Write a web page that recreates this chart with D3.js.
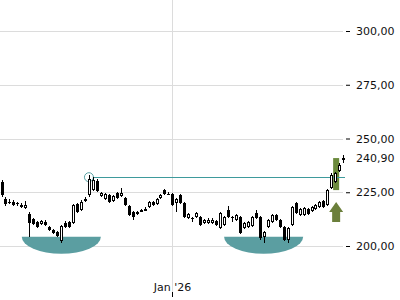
<!DOCTYPE html>
<html>
<head>
<meta charset="utf-8">
<script src="https://cdn.jsdelivr.net/npm/d3@7"></script>
<style>
  body { margin: 0; background: #fff; }
  svg { display: block; font-family: "DejaVu Sans", sans-serif; }
</style>
</head>
<body>
<div id="chart"></div>
<script>
// daily candles, oldest first
var openVals = [229.8, 221.9, 220.6, 220.5, 219.8, 219.1, 217.7, 214.8, 212.6, 211.2,
    210.2, 211.2, 208.8, 207.4, 206.5, 202.3, 210.7, 211.2, 210.7, 219.5,
    216.7, 221.2, 223.7, 226.0, 230.2, 223.3, 221.9, 223.7, 220.9, 224.7,
    223.3, 222.3, 218.6, 215.8, 215.8, 216.5, 217.0, 218.1, 220.5, 219.5,
    222.3, 226.0, 224.4, 224.2, 220.0, 223.7, 220.0, 213.0, 213.1, 213.5,
    213.5, 210.7, 210.9, 210.6, 211.6, 208.4, 209.8, 216.7, 213.7, 212.1,
    213.5, 208.4, 208.8, 209.3, 215.3, 213.5, 204.2, 208.8, 211.2, 214.4,
    212.1, 208.8, 202.8, 209.8, 220.0, 214.4, 214.4, 217.2, 216.3, 217.2,
    218.1, 220.9, 219.1, 227.0, 229.8, 234.9, 240.2];
var highVals = [230.5, 223.0, 221.9, 221.2, 220.5, 219.8, 220.7, 215.6, 213.2, 211.8,
    212.3, 211.9, 209.5, 208.0, 207.1, 210.0, 211.4, 211.8, 219.6, 220.1,
    221.3, 223.0, 233.2, 232.0, 231.0, 225.3, 224.8, 224.3, 223.9, 225.3,
    227.0, 222.9, 219.2, 216.4, 216.3, 217.4, 218.0, 221.0, 221.1, 222.4,
    224.2, 226.6, 225.0, 224.7, 222.4, 224.3, 220.6, 215.4, 213.6, 215.9,
    214.1, 212.6, 212.8, 212.8, 212.2, 215.9, 214.0, 218.6, 214.0, 215.0,
    214.1, 211.3, 211.8, 214.1, 216.6, 214.1, 207.0, 212.7, 215.0, 215.0,
    212.7, 209.4, 209.0, 218.7, 220.6, 217.8, 218.3, 217.8, 218.7, 219.7,
    221.1, 221.5, 226.6, 233.8, 234.6, 238.5, 242.4];
var lowVals = [223.0, 218.8, 219.6, 218.6, 218.8, 217.7, 217.2, 204.2, 209.6, 208.2,
    209.7, 209.2, 206.9, 205.4, 204.0, 201.6, 208.2, 208.3, 210.2, 215.3,
    216.2, 220.5, 223.0, 225.5, 225.0, 222.8, 221.3, 220.0, 220.4, 221.8,
    222.9, 218.6, 213.9, 212.0, 214.4, 215.9, 216.4, 217.6, 218.6, 219.0,
    221.8, 223.7, 223.6, 218.6, 215.8, 219.5, 213.0, 212.5, 211.0, 213.0,
    209.3, 210.2, 210.4, 210.1, 209.3, 207.9, 209.3, 213.0, 211.0, 211.6,
    205.5, 207.9, 208.3, 208.8, 212.5, 203.0, 201.4, 208.3, 210.7, 211.6,
    208.3, 202.3, 201.6, 209.3, 214.8, 213.9, 213.9, 214.4, 215.8, 216.7,
    217.6, 217.6, 218.6, 226.5, 229.2, 234.3, 238.6];
var closeVals = [223.7, 219.5, 220.3, 219.1, 219.4, 218.1, 219.3, 210.7, 210.2, 208.8,
    211.6, 209.8, 207.4, 206.0, 204.7, 209.3, 208.8, 208.8, 219.1, 215.8,
    220.5, 221.9, 231.2, 230.7, 225.6, 224.7, 224.2, 220.5, 223.3, 222.3,
    224.7, 219.1, 214.4, 213.5, 214.9, 216.8, 217.3, 220.5, 219.1, 221.9,
    223.7, 224.2, 224.1, 219.1, 221.9, 220.0, 213.5, 214.9, 212.9, 215.3,
    209.8, 212.1, 212.3, 212.0, 209.8, 215.3, 213.5, 213.5, 213.4, 214.4,
    206.0, 210.7, 211.2, 213.5, 213.0, 203.7, 206.5, 212.1, 214.4, 212.1,
    208.8, 202.8, 208.4, 218.1, 215.3, 217.2, 217.7, 214.9, 218.1, 219.1,
    220.5, 218.1, 226.0, 233.0, 234.0, 237.7, 240.9];

var yTicks = [200, 225, 250, 275, 300];
var lastPrice = 240.9;
var xTickPos = [42.9];
var xTickLabels = ["Jan '26"];

// pattern annotations, in candle index / price units
var cupFrom = [5.1, 56.0];
var cupTo = [25.0, 75.9];
var cupRim = [204.3, 204.3];
var cupBase = [196.4, 196.4];
var breakoutIndex = 22;
var breakoutLevel = 232.0;
var signalIndex = 84.2;
var signalTop = 240.9;
var signalBottom = 226.0;
var arrowTip = 220.5;
var arrowBase = 211.2;

var width = 400, height = 300;
var plotRight = 343, plotBottom = 292;

var candles = openVals.map(function(o, i) {
    return {i: i, open: o, high: highVals[i], low: lowVals[i], close: closeVals[i]};
});

var x = d3.scaleLinear().domain([0, candles.length - 1]).range([1.5, 343.3]);
var y = d3.scaleLinear().domain([200, 300]).range([246, 31]);

var svg = d3.select("#chart").append("svg")
    .attr("width", width)
    .attr("height", height);

// grid
svg.append("g").attr("class", "grid")
    .selectAll("line")
    .data(yTicks)
    .enter().append("line")
    .attr("x1", 0)
    .attr("x2", plotRight)
    .attr("y1", function(d) { return Math.round(y(d)) + 0.5; })
    .attr("y2", function(d) { return Math.round(y(d)) + 0.5; })
    .attr("stroke", "#dcdcdc");

svg.append("g").attr("class", "grid")
    .selectAll("line")
    .data(xTickPos)
    .enter().append("line")
    .attr("x1", function(d) { return Math.round(x(d)) + 0.5; })
    .attr("x2", function(d) { return Math.round(x(d)) + 0.5; })
    .attr("y1", 0)
    .attr("y2", plotBottom)
    .attr("stroke", "#dcdcdc");

// cups
var cupArea = svg.append("g").attr("class", "cups");
cupFrom.forEach(function(f, k) {
    var x0 = x(f), x1 = x(cupTo[k]);
    var yt = y(cupRim[k]), yb = y(cupBase[k]);
    var rx = (x1 - x0) / 2, ry = yb - yt;
    cupArea.append("path")
        .attr("d", "M" + x0 + "," + yt + " A" + rx + "," + ry + " 0 0 0 " + x1 + "," + yt + " Z")
        .attr("fill", "#5b9ea1");
});

// signal bar
svg.append("rect")
    .attr("x", x(signalIndex) - 3)
    .attr("width", 6)
    .attr("y", y(signalTop))
    .attr("height", y(signalBottom) - y(signalTop))
    .attr("fill", "#6b8a3c");

// breakout level
var bx = x(breakoutIndex), by = y(breakoutLevel);
svg.append("line")
    .attr("x1", bx + 4.5)
    .attr("x2", plotRight + 2)
    .attr("y1", Math.round(by) + 0.5)
    .attr("y2", Math.round(by) + 0.5)
    .attr("stroke", "#3e9a9c");
svg.append("circle")
    .attr("cx", bx)
    .attr("cy", by)
    .attr("r", 4.5)
    .attr("fill", "none")
    .attr("stroke", "#5aa3a5");

// candles
var cg = svg.append("g").attr("class", "candles")
    .selectAll("g")
    .data(candles)
    .enter().append("g");

cg.append("line")
    .attr("x1", function(d) { return Math.round(x(d.i)) + 0.5; })
    .attr("x2", function(d) { return Math.round(x(d.i)) + 0.5; })
    .attr("y1", function(d) { return Math.round(y(d.high)); })
    .attr("y2", function(d) { return Math.round(y(d.low)); })
    .attr("stroke", "#000");

cg.append("rect")
    .attr("x", function(d) {
        var cx = Math.round(x(d.i));
        return d.close >= d.open ? cx - 0.5 : cx - 1;
    })
    .attr("width", function(d) { return d.close >= d.open ? 2 : 3; })
    .attr("y", function(d) {
        var t = Math.round(y(Math.max(d.open, d.close)));
        return d.close >= d.open ? t + 0.5 : t;
    })
    .attr("height", function(d) {
        var t = Math.round(y(Math.max(d.open, d.close)));
        var b = Math.round(y(Math.min(d.open, d.close)));
        var h = Math.max(1, b - t);
        return d.close >= d.open ? Math.max(1, h - 1) : h;
    })
    .attr("fill", function(d) { return d.close >= d.open ? "#fff" : "#000"; })
    .attr("stroke", function(d) { return d.close >= d.open ? "#000" : "none"; });

// arrow
var ax = x(signalIndex), aTop = y(arrowTip), aBot = y(arrowBase);
var headH = (aBot - aTop) / 2;
svg.append("path")
    .attr("d", "M" + ax + "," + aTop +
        " L" + (ax + 7) + "," + (aTop + headH) +
        " L" + (ax + 4) + "," + (aTop + headH) +
        " L" + (ax + 4) + "," + aBot +
        " L" + (ax - 4) + "," + aBot +
        " L" + (ax - 4) + "," + (aTop + headH) +
        " L" + (ax - 7) + "," + (aTop + headH) + " Z")
    .attr("fill", "#6b7f3b");

// axes
var fmt = function(d) { return d3.format(".2f")(d).replace(".", ","); };

var yAxis = svg.append("g")
    .attr("transform", "translate(346,0)")
    .call(d3.axisRight(y).tickValues(yTicks).tickSize(4).tickPadding(6).tickFormat(fmt));
yAxis.select(".domain").remove();
yAxis.selectAll("text").attr("font-size", 11).attr("font-family", "DejaVu Sans").attr("fill", "#111");

svg.append("text")
    .attr("x", 356)
    .attr("y", y(lastPrice))
    .attr("dy", "0.32em")
    .attr("font-size", 11)
    .attr("fill", "#111")
    .text(fmt(lastPrice));

var xAxis = svg.append("g")
    .attr("transform", "translate(0," + plotBottom + ")")
    .call(d3.axisBottom(x).tickValues(xTickPos).tickSize(5)
        .tickFormat(function(d, k) { return xTickLabels[k]; }));
xAxis.select(".domain").remove();
xAxis.selectAll("text")
    .attr("y", -1)
    .attr("dy", 0)
    .attr("font-size", 11)
    .attr("font-family", "DejaVu Sans")
    .attr("fill", "#111");
</script>
</body>
</html>
